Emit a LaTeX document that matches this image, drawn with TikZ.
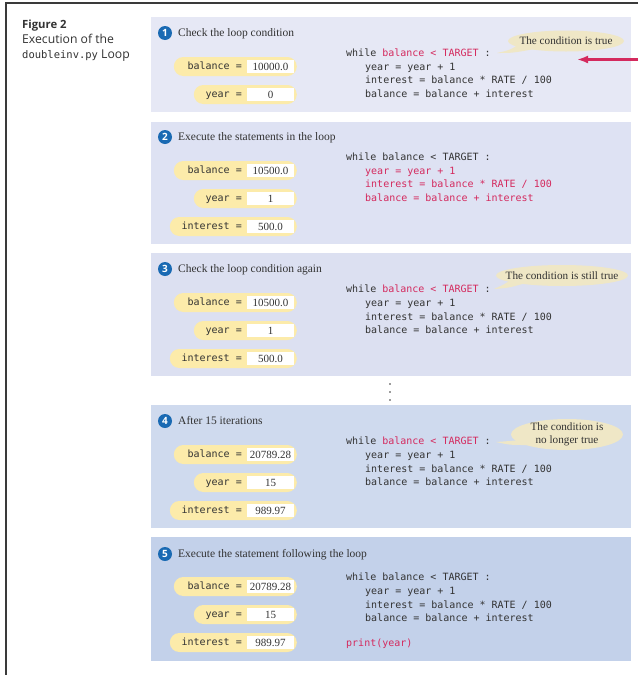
\documentclass[tikz,border=0pt]{standalone}
\usepackage{fontspec}
\setmainfont{Liberation Serif}
\setmonofont{DejaVu Sans Mono}
\setsansfont{Open Sans}
\usetikzlibrary{arrows.meta}
\definecolor{framec}{HTML}{3A3A3A}
\definecolor{panelA}{HTML}{E6E8F5}
\definecolor{panelB}{HTML}{DEE2F3}
\definecolor{panelC}{HTML}{DCE0F1}
\definecolor{panelD}{HTML}{CFDAEE}
\definecolor{panelE}{HTML}{C3D1EA}
\definecolor{pillc}{HTML}{FCEBAA}
\definecolor{callc}{HTML}{EFE7C6}
\definecolor{codered}{HTML}{D42A5E}
\definecolor{codegray}{HTML}{333333}
\definecolor{numblue}{HTML}{1A6AB3}
\newcommand\pillvar[5]{%
  \node[pillbox, minimum width={297-#2}, anchor=east] (#1) at (297,#3) {};
  \node[valbox] (#1v) at (270.5,#3) {#5};
  \node[varlbl, anchor=base east] (#1l) at (242,#3+3.3) {#4};
}
\newcommand\codefour[6]{%
  \node[codetxt] (#1a) at (346,#2+3.4) {#3};
  \node[codetxt] (#1b) at (365,#2+17.0) {#4};
  \node[codetxt] (#1c) at (365,#2+30.6) {#5};
  \node[codetxt] (#1d) at (365,#2+44.2) {#6};
}
\begin{document}
\begin{tikzpicture}[x=1pt,y=-1pt,
  pillbox/.style={fill=pillc, rounded corners=9.5pt, minimum height=19pt, inner sep=0pt},
  valbox/.style={fill=white, minimum width=47pt, minimum height=12.5pt, inner sep=0pt,
    font=\fontsize{11}{12}\selectfont, text=codegray},
  varlbl/.style={inner sep=0pt, font=\ttfamily\fontsize{10}{12}\selectfont, text=codegray},
  codetxt/.style={anchor=base west, inner sep=0pt, font=\ttfamily\fontsize{10}{12}\selectfont, text=codegray},
  stepnum/.style={circle, fill=numblue, text=white, inner sep=0pt, minimum size=14pt,
    font=\sffamily\bfseries\fontsize{10}{10}\selectfont},
  titlet/.style={anchor=base west, inner sep=0pt, font=\fontsize{11.5}{12}\selectfont, text=codegray},
  calltxt/.style={inner sep=0pt, align=center, font=\fontsize{11.2}{13}\selectfont, text=codegray},
  captxt/.style={anchor=base west, inner sep=0pt, font=\sffamily\fontsize{12.2}{14}\selectfont, text=codegray}
]
\useasboundingbox (0,0) rectangle (638,675);
\fill[white] (0,0) rectangle (638,675);
% frame
\draw[framec, line width=1.3pt] (638,3) -- (6,3) -- (6,675);
% caption
\node[captxt, font=\sffamily\bfseries\fontsize{11.3}{14}\selectfont] (cap1) at (22,28.5) {Figure 2};
\node[captxt] (cap2) at (22,43.5) {Execution of the};
\node[captxt] (cap3) at (22,58.5) {{\ttfamily\fontsize{10.5}{12}\selectfont doubleinv.py} Loop};
% panels
\fill[panelA] (151,17) rectangle (631,112);
\fill[panelB] (151,122) rectangle (631,244);
\fill[panelC] (151,253) rectangle (631,376);
\fill[panelD] (151,405) rectangle (631,528);
\fill[panelE] (151,537) rectangle (631,661);
% dots
\foreach \yy in {384,392,400} \fill[framec] (390,\yy) circle (0.9pt);

% ---------- panel 1
\node[stepnum] (n1) at (165,33) {1};
\node[titlet] (t1) at (178,36.5) {Check the loop condition};
\pillvar{b1}{174}{66.5}{balance =}{10000.0}
\pillvar{y1}{194}{94.5}{year =}{0}
\codefour{c1}{53}{while {\color{codered}balance < TARGET} :}{year = year + 1}{interest = balance * RATE / 100}{balance = balance + interest}
\fill[callc] (566,41) ellipse [x radius=58pt, y radius=10.5pt];
\fill[callc] (518,45) .. controls (510,50) .. (497,53) .. controls (512,53) .. (532,49.5) -- cycle;
\node[calltxt] (k1) at (566,41) {The condition is true};
\coordinate (arrstart) at (638,59.5);
\coordinate (arrend) at (577,59.5);
\draw[codered, line width=2.3pt, -{Latex[length=11pt,width=8pt]}] (arrstart) -- (arrend);

% ---------- panel 2
\node[stepnum] (n2) at (165,137) {2};
\node[titlet] (t2) at (178,140.5) {Execute the statements in the loop};
\pillvar{b2}{174}{170.5}{balance =}{10500.0}
\pillvar{y2}{194}{198.5}{year =}{1}
\pillvar{i2}{170}{226.5}{interest =}{500.0}
\codefour{c2}{157}{while balance < TARGET :}{\color{codered}year = year + 1}{\color{codered}interest = balance * RATE / 100}{\color{codered}balance = balance + interest}

% ---------- panel 3
\node[stepnum] (n3) at (165,269) {3};
\node[titlet] (t3) at (178,272.5) {Check the loop condition again};
\pillvar{b3}{174}{302.5}{balance =}{10500.0}
\pillvar{y3}{194}{330.5}{year =}{1}
\pillvar{i3}{170}{358.5}{interest =}{500.0}
\codefour{c3}{289.5}{while {\color{codered}balance < TARGET} :}{year = year + 1}{interest = balance * RATE / 100}{balance = balance + interest}
\fill[callc] (562,275.5) ellipse [x radius=66pt, y radius=10.5pt];
\fill[callc] (512,279) .. controls (505,284) .. (494,289) .. controls (508,288) .. (526,283) -- cycle;
\node[calltxt] (k3) at (562,275.5) {The condition is still true};

% ---------- panel 4
\node[stepnum] (n4) at (165,421) {4};
\node[titlet] (t4) at (178,424.5) {After 15 iterations};
\pillvar{b4}{174}{454.5}{balance =}{20789.28}
\pillvar{y4}{194}{482.5}{year =}{15}
\pillvar{i4}{170}{510.5}{interest =}{989.97}
\codefour{c4}{441.5}{while {\color{codered}balance < TARGET} :}{year = year + 1}{interest = balance * RATE / 100}{balance = balance + interest}
\fill[callc] (567,434.5) ellipse [x radius=56pt, y radius=15.5pt];
\fill[callc] (520,440) .. controls (510,441) .. (496,442) .. controls (510,445) .. (526,445) -- cycle;
\node[calltxt] (k4) at (567,434.5) {The condition is\\no longer true};

% ---------- panel 5
\node[stepnum] (n5) at (165,554) {5};
\node[titlet] (t5) at (178,557.5) {Execute the statement following the loop};
\pillvar{b5}{174}{586.5}{balance =}{20789.28}
\pillvar{y5}{194}{614.5}{year =}{15}
\pillvar{i5}{170}{642.5}{interest =}{989.97}
\codefour{c5}{577.5}{while balance < TARGET :}{year = year + 1}{interest = balance * RATE / 100}{balance = balance + interest}
\node[codetxt, text=codered] (c5e) at (346,646.5) {print(year)};
\end{tikzpicture}
\end{document}
